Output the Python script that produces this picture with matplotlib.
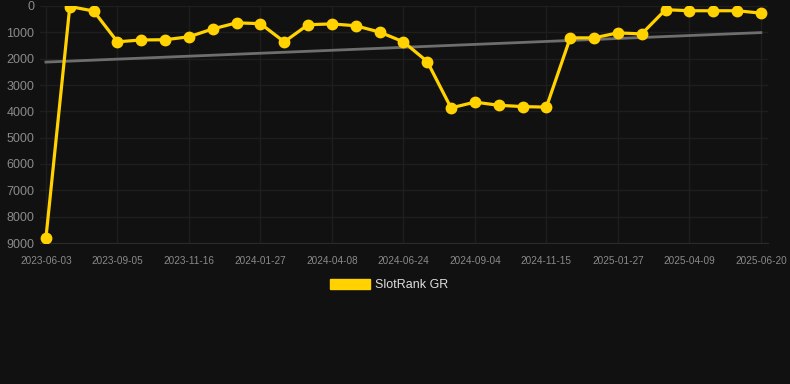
import matplotlib
matplotlib.use("Agg")
import matplotlib.pyplot as plt
from matplotlib.patches import Patch

# rank values per snapshot (lower = better, axis inverted)
ranks = [8800, 20, 190, 1360, 1290, 1280, 1170, 870, 640, 670,
         1360, 710, 680, 750, 990, 1360, 2110, 3870, 3650, 3770,
         3820, 3840, 1210, 1210, 1020, 1060, 140, 180, 180, 180, 270]
tick_labels = ["2023-06-03", "2023-09-05", "2023-11-16", "2024-01-27",
               "2024-04-08", "2024-06-24", "2024-09-04", "2024-11-15",
               "2025-01-27", "2025-04-09", "2025-06-20"]
trend = [2130, 1010]  # trend line at first / last point
y_ticks = [0, 1000, 2000, 3000, 4000, 5000, 6000, 7000, 8000, 9000]

bg = "#111111"
gold = "#ffd200"
plt.rcParams['font.family'] = ['Liberation Sans', 'DejaVu Sans']

fig = plt.figure(figsize=(7.9, 3.84), dpi=100, facecolor=bg)
ax = fig.add_axes([40/790, 1 - 243/384, 728/790, 237/384], facecolor=bg)

xs = list(range(len(ranks)))
ax.plot([xs[0], xs[-1]], trend, color="#6e6e6e", lw=2, zorder=2)
ax.plot(xs, ranks, color=gold, lw=2.3, marker="o", markersize=7.5, zorder=3)

ax.set_ylim(9000, 0)
ax.set_xlim(-0.25, len(ranks) - 1 + 0.3)
ax.set_yticks(y_ticks)
ax.set_yticklabels([str(v) for v in y_ticks])
ax.set_xticks(xs[::3])
ax.set_xticklabels(tick_labels)

ax.grid(True, color="#1e1e1e", lw=1)
ax.set_axisbelow(True)
for s in ["top", "right", "left"]:
    ax.spines[s].set_visible(False)
ax.spines["bottom"].set_color("#2a2a2a")
ax.tick_params(axis="y", length=0, pad=4, labelsize=9, labelcolor="#8a8a8a")
ax.tick_params(axis="x", length=0, pad=9, labelsize=7.2, labelcolor="#8a8a8a")

fig.legend(handles=[Patch(color=gold, label="SlotRank GR")],
           loc="center", bbox_to_anchor=(389/790, 1 - 285/384),
           frameon=False, fontsize=9, labelcolor="#dddddd",
           handlelength=3.2, handleheight=0.95, handletextpad=0.45)

fig.savefig("out.png", dpi=100, facecolor=bg)
